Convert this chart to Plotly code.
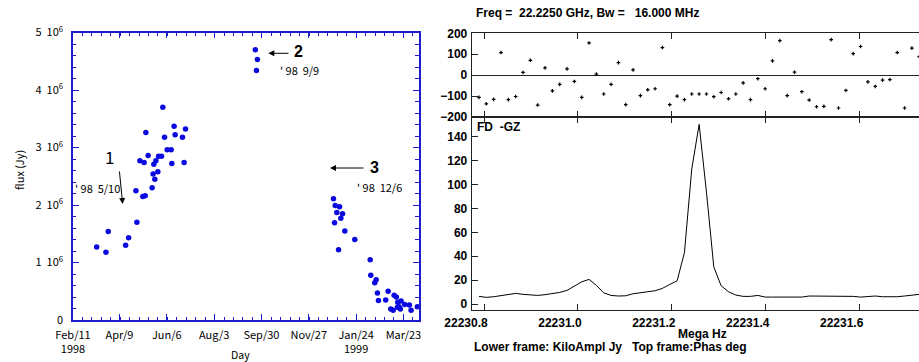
import plotly.graph_objects as go

W, H = 919, 362

def fx(p):
    return p / W

def fy(p):
    return 1 - p / H

# ---------------- Left chart data (day number from 1998-01-01, flux in Jy) ----------------
day_1 = [71.0, 82.4, 85.2, 106.5, 110.2, 120.3, 119.1, 127.6, 130.5, 124.0, 129.2, 134.1,
         131.3, 139.0, 142.3, 140.2, 146.0, 141.1, 143.6, 146.9, 150.5, 152.1, 154.2,
         157.4, 162.3, 163.1, 165.9, 167.2, 176.2, 178.2, 179.9]
flux_1 = [1.27e6, 1.18e6, 1.54e6, 1.30e6, 1.43e6, 1.70e6, 2.25e6, 2.15e6, 2.16e6, 2.77e6,
          2.74e6, 2.86e6, 3.26e6, 2.30e6, 2.45e6, 2.54e6, 2.58e6, 2.71e6, 2.77e6, 2.85e6,
          2.85e6, 3.70e6, 3.18e6, 2.96e6, 2.96e6, 2.72e6, 3.37e6, 3.22e6, 3.18e6, 2.74e6,
          3.32e6]
day_2 = [265.5, 268.0, 266.8]
flux_2 = [4.70e6, 4.53e6, 4.34e6]
day_3 = [361.3, 363.4, 368.7, 365.4, 372.4, 370.3, 362.6, 375.2, 387.4, 367.5, 406.3, 407.0,
         413.6, 411.9, 415.2, 416.4, 425.3, 428.3, 435.6, 438.4, 440.0, 444.2, 431.5, 434.4,
         439.7, 441.7, 443.3, 448.6, 454.3, 456.4, 464.1]
flux_3 = [2.11e6, 1.99e6, 1.97e6, 1.87e6, 1.85e6, 1.77e6, 1.69e6, 1.55e6, 1.40e6, 1.22e6,
          1.05e6, 0.78e6, 0.70e6, 0.65e6, 0.47e6, 0.34e6, 0.35e6, 0.50e6, 0.43e6, 0.40e6,
          0.31e6, 0.33e6, 0.19e6, 0.17e6, 0.22e6, 0.23e6, 0.19e6, 0.27e6, 0.26e6, 0.17e6,
          0.23e6]

day_tickvals = [42, 99, 157, 215, 273, 331, 389, 447]
day_ticktext = ["Feb/11<br>1998", "Apr/9", "Jun/6", "Aug/3", "Sep/30", "Nov/27",
                "Jan/24<br>1999", "Mar/23"]
flux_tickvals = [0, 1e6, 2e6, 3e6, 4e6, 5e6]
flux_ticktext = ["0"] + [f"{k}\u00a0\u00a010<sup>6</sup>" for k in range(1, 6)]

# ---------------- Right chart data ----------------
freq = [22230.7893, 22230.8049, 22230.8206, 22230.8362, 22230.8518, 22230.8674, 22230.8831,
        22230.8987, 22230.9143, 22230.9299, 22230.9456, 22230.9612, 22230.9768, 22230.9924,
        22231.0081, 22231.0237, 22231.0393, 22231.0549, 22231.0706, 22231.0862, 22231.1018,
        22231.1174, 22231.1331, 22231.1487, 22231.1643, 22231.1799, 22231.1956, 22231.2112,
        22231.2268, 22231.2424, 22231.2581, 22231.2737, 22231.2893, 22231.3049, 22231.3206,
        22231.3362, 22231.3518, 22231.3674, 22231.3831, 22231.3987, 22231.4143, 22231.4299,
        22231.4456, 22231.4612, 22231.4768, 22231.4924, 22231.5081, 22231.5237, 22231.5393,
        22231.5549, 22231.5706, 22231.5862, 22231.6018, 22231.6174, 22231.6331, 22231.6487,
        22231.6643, 22231.6799, 22231.6956, 22231.7112, 22231.7268]
phase = [-106, -137, -116, 108, -117, -102, 13, 71, -143, 35, -75, -44, 30, -30, -106, 154,
         5, -90, -44, 60, -141, 25, -98, -70, -65, 132, -141, -100, -117, -90, -90, -90,
         -103, -83, -113, -90, -37, -117, -17, -65, 68, 165, -98, 14, -79, -119, -151, -149,
         170, -157, -73, 103, 137, -32, -54, -24, -21, 108, -157, 129, 89]
ampl = [6.4, 5.6, 6.1, 7.2, 8.1, 8.9, 8.1, 7.8, 7.2, 7.8, 8.6, 9.7, 11.4, 15.0, 18.6, 20.6,
        15.6, 9.4, 7.2, 6.7, 6.9, 8.6, 9.7, 10.3, 11.1, 13.1, 16.4, 19.4, 43.0, 113.0, 150.3,
        93.6, 31.1, 15.3, 10.3, 7.5, 6.4, 6.4, 7.2, 5.8, 5.8, 5.8, 6.1, 6.1, 5.8, 6.7, 6.7,
        6.7, 6.4, 6.7, 6.9, 6.4, 5.8, 6.4, 6.7, 6.1, 5.8, 6.1, 6.7, 7.5, 8.1]
freq_tickvals = [22230.8, 22231.0, 22231.2, 22231.4, 22231.6]
freq_ticktext = ["22230.8", "22231.0", "22231.2", "22231.4", "22231.6"]
phase_tickvals = [-200, -100, 0, 100, 200]
ampl_tickvals = [0, 20, 40, 60, 80, 100, 120, 140]

BLUE = "#1c1ccc"
DOT = "#0a0ae0"
JFONT = "Noto Sans CJK JP"
BFONT = "Liberation Sans"

fig = go.Figure()

for d, f in [(day_1, flux_1), (day_2, flux_2), (day_3, flux_3)]:
    fig.add_trace(go.Scatter(x=d, y=f, mode="markers", cliponaxis=False,
                             marker=dict(color=DOT, size=5.5, line=dict(width=0)),
                             xaxis="x", yaxis="y", showlegend=False))

fig.add_trace(go.Scatter(x=freq, y=phase, mode="markers", cliponaxis=True,
                         marker=dict(color="black", size=3, symbol="cross"),
                         xaxis="x2", yaxis="y2", showlegend=False))
fig.add_trace(go.Scatter(x=freq, y=ampl, mode="lines",
                         line=dict(color="black", width=1),
                         xaxis="x3", yaxis="y3", showlegend=False))

frange = [22230.7738, 22231.7263]

fig.update_layout(
    width=W, height=H,
    margin=dict(l=0, r=0, t=0, b=0, autoexpand=False),
    paper_bgcolor="white", plot_bgcolor="white",
    showlegend=False,
    xaxis=dict(domain=[fx(73), fx(418.5)], range=[42, 465.5], automargin=False,
               tickmode="array", tickvals=day_tickvals, ticktext=day_ticktext,
               ticks="inside", ticklen=6, tickwidth=1, tickcolor=BLUE,
               minor=dict(ticks="inside", ticklen=3.5, tick0=42, dtick=57.857 / 5,
                          tickcolor=BLUE, tickwidth=1),
               showline=True, linecolor=BLUE, linewidth=1.5, mirror="ticks",
               showgrid=False, zeroline=False,
               tickfont=dict(family=JFONT, size=11, color="black"),
               ticklabelstandoff=4),
    yaxis=dict(domain=[fy(320), fy(32.5)], range=[0, 5e6], automargin=False,
               tickmode="array", tickvals=flux_tickvals, ticktext=flux_ticktext,
               ticks="inside", ticklen=6, tickwidth=1, tickcolor=BLUE,
               minor=dict(ticks="inside", ticklen=3.5, dtick=2e5, tickcolor=BLUE,
                          tickwidth=1),
               showline=True, linecolor=BLUE, linewidth=1.5, mirror="ticks",
               showgrid=False, zeroline=False,
               tickfont=dict(family=JFONT, size=11, color="black"),
               ticklabelstandoff=6),
    xaxis2=dict(domain=[fx(471.7), 1], range=frange, anchor="y2", automargin=False,
                tickmode="array", tickvals=freq_tickvals, showticklabels=False,
                ticks="inside", ticklen=6, tickcolor="#222", tickwidth=1,
                showline=True, linecolor="#222", linewidth=1, mirror="ticks",
                showgrid=False, zeroline=False),
    yaxis2=dict(domain=[fy(117), fy(33.3)], range=[-200, 200], anchor="x2",
                automargin=False,
                tickmode="array", tickvals=phase_tickvals,
                ticks="inside", ticklen=6, tickcolor="#222", tickwidth=1,
                showline=True, linecolor="#222", linewidth=1, mirror=False,
                showgrid=False, zeroline=True, zerolinecolor="#222", zerolinewidth=1,
                tickfont=dict(family=BFONT, size=12, color="black", weight="bold"),
                ticklabelstandoff=1),
    xaxis3=dict(domain=[fx(471.7), 1], range=frange, anchor="y3", automargin=False,
                tickmode="array", tickvals=freq_tickvals, ticktext=freq_ticktext,
                ticks="inside", ticklen=6, tickcolor="#222", tickwidth=1,
                showline=True, linecolor="#222", linewidth=1, mirror="ticks",
                showgrid=False, zeroline=False, ticklabelshift=-18,
                tickfont=dict(family=BFONT, size=12, color="black", weight="bold"),
                ticklabelstandoff=2),
    yaxis3=dict(domain=[fy(310), fy(117)], range=[-5, 156.5], anchor="x3",
                automargin=False,
                tickmode="array", tickvals=ampl_tickvals,
                ticks="inside", ticklen=6, tickcolor="#222", tickwidth=1,
                showline=True, linecolor="#222", linewidth=1, mirror=False,
                showgrid=False, zeroline=False,
                tickfont=dict(family=BFONT, size=12, color="black", weight="bold"),
                ticklabelstandoff=1),
)

ann = []

def text(x, y, s, size, family=JFONT, weight="normal", xanchor="center", angle=0):
    ann.append(dict(x=fx(x), y=fy(y), xref="paper", yref="paper", text=s, showarrow=False,
                    xanchor=xanchor, yanchor="middle", textangle=angle,
                    font=dict(family=family, size=size, color="black", weight=weight)))

def arrow(x0, y0, x1, y1):
    # tail (x0,y0) -> head (x1,y1), pixel coordinates
    ann.append(dict(x=fx(x1), y=fy(y1), xref="paper", yref="paper", text="",
                    showarrow=True, ax=x0 - x1, ay=y0 - y1, axref="pixel", ayref="pixel",
                    arrowhead=2, arrowsize=1.2, arrowwidth=1, arrowcolor="black"))

# axis titles
text(240, 354.5, "Day", 10.5)
text(19, 170, "flux (Jy)", 11, angle=-90)
text(702, 333.5, "Mega Hz", 12, family=BFONT, weight="bold")

# left chart callouts
text(109.5, 157, "1", 17)
arrow(119.3, 170, 122.7, 204)
text(97.5, 187.5, "'\u00a098\u00a0\u00a05/10", 11)
text(298.5, 51.7, "2", 16, family=BFONT, weight="bold")
arrow(290, 53.3, 268.3, 53.3)
text(299, 70, "'\u00a098\u00a0\u00a09/9", 11)
text(374.5, 167, "3", 16, family=BFONT, weight="bold")
arrow(365, 168, 330, 168)
text(379, 186.5, "'\u00a098\u00a0\u00a012/6", 11)

# right chart texts
text(587.5, 13.3, "Freq =\u00a0\u00a022.2250 GHz, Bw =\u00a0\u00a0\u00a016.000 MHz", 12,
     family=BFONT, weight="bold")
text(475, 126.7, "FD\u00a0\u00a0-GZ", 12, family=BFONT, weight="bold", xanchor="left")
text(471.7, 346.5, "Lower frame: KiloAmpl Jy\u00a0\u00a0\u00a0Top frame:Phas deg", 12,
     family=BFONT, weight="bold", xanchor="left")

fig.update_layout(annotations=ann)

fig.write_html("out.html", config={"displayModeBar": False},
               post_script="document.body.style.margin='0';document.body.style.padding='0';")
